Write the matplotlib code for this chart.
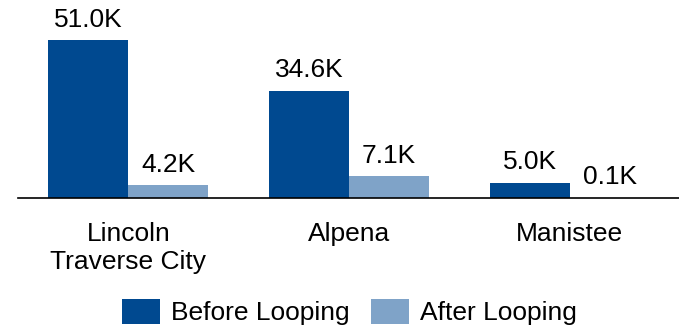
import matplotlib.pyplot as plt
import numpy as np

plt.rcParams['font.family'] = ['Liberation Sans', 'DejaVu Sans']

sites = ["Lincoln\nTraverse City", "Alpena", "Manistee"]
before = [51.0, 34.6, 5.0]
after = [4.2, 7.1, 0.1]

dark_blue = "#004990"
light_blue = "#7FA3C8"

fig = plt.figure(figsize=(6.79, 3.31), dpi=100)
ax = fig.add_axes([18 / 679, 1 - 198 / 331, 662 / 679, 198 / 331])

x = np.arange(len(sites))
w = 0.362
b1 = ax.bar(x - w / 2, before, w, color=dark_blue, label="Before Looping")
b2 = ax.bar(x + w / 2, after, w, color=light_blue, label="After Looping")

# value labels over each bar
for bars in (b1, b2):
    for rect in bars:
        h = rect.get_height()
        ax.annotate(f"{h:.1f}K", (rect.get_x() + rect.get_width() / 2, h),
                    xytext=(0, 6), textcoords="offset points",
                    ha="center", va="bottom", fontsize=19)

ax.set_xlim(-0.5, 2.5)
ax.set_ylim(0, 63.9)
ax.set_xticks(x)
ax.set_xticklabels(sites, fontsize=19, linespacing=1.25)
ax.tick_params(axis="x", length=0, pad=17)
ax.set_yticks([])
for side in ("top", "left", "right"):
    ax.spines[side].set_visible(False)
ax.spines["bottom"].set_linewidth(1.2)

fig.legend(loc="center", bbox_to_anchor=(0.515, 0.057), ncol=2, frameon=False,
           fontsize=19, handlelength=1.44, handleheight=1.1,
           handletextpad=0.42, columnspacing=0.8)

plt.savefig("out.png", dpi=100)
